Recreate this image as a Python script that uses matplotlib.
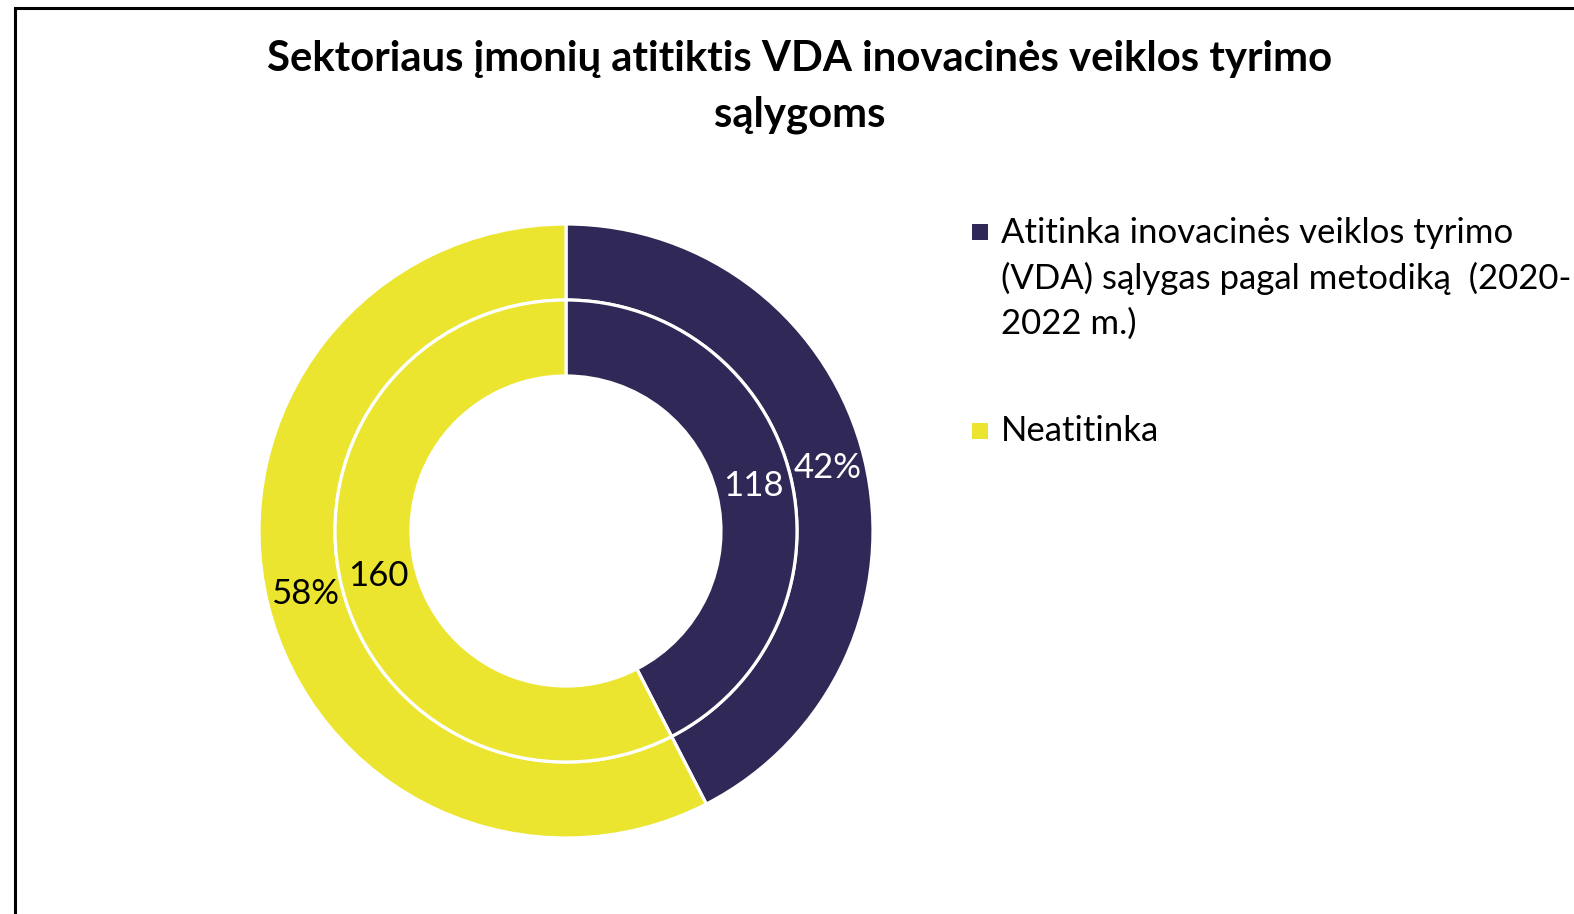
import matplotlib
matplotlib.use("Agg")
from matplotlib import pyplot as plt
from matplotlib.patches import Rectangle

plt.rcParams['font.family'] = ['Lato', 'DejaVu Sans']

title = "Sektoriaus įmonių atitiktis VDA inovacinės veiklos tyrimo\nsąlygoms"
categories = ["Atitinka inovacinės veiklos tyrimo\n(VDA) sąlygas pagal metodiką  (2020-\n2022 m.)",
              "Neatitinka"]
counts = [118, 160]
colors = ["#302957", "#EBE530"]
label_colors = ["white", "black"]

W, H = 1574, 914
fig = plt.figure(figsize=(W / 100, H / 100), dpi=100)

# pie axes: centre (566, 531) px, outer radius ~309 px
R = 307
half = 327
ax = fig.add_axes([(566 - half) / W, (H - 531 - half) / H, 2 * half / W, 2 * half / H])

r_mid = 231 / R
ring_w = 76 / R
total = sum(counts)
edge = dict(edgecolor='white', linewidth=2.3, width=ring_w)

outer, _, outer_txt = ax.pie(counts, radius=1.0, colors=colors, startangle=90, counterclock=False,
                             wedgeprops=edge, autopct='%.0f%%', pctdistance=(1 - ring_w / 2))
inner, _, inner_txt = ax.pie(counts, radius=r_mid, colors=colors, startangle=90, counterclock=False,
                             wedgeprops=edge, autopct=lambda p: f'{p * total / 100:.0f}',
                             pctdistance=(r_mid - ring_w / 2) / r_mid)
for txts in (outer_txt, inner_txt):
    for t, c in zip(txts, label_colors):
        t.set_color(c)
        t.set_fontsize(25)

ax.set_xlim(-half / R, half / R)
ax.set_ylim(-half / R, half / R)
ax.set_aspect('equal')
ax.axis('off')

fig.text(800 / W, 1 - 87 / H, title, ha='center', va='center', fontsize=30.2,
         fontweight='bold', linespacing=1.57)

# legend: square markers with text, first line aligned with marker
legend_y = [242, 441]  # baselines of first line (px from top)
line_h = 46
for lab, col, yb in zip(categories, colors, legend_y):
    fig.add_artist(Rectangle((972 / W, 1 - (yb - 2) / H), 16 / W, 16 / H,
                             transform=fig.transFigure, facecolor=col, edgecolor='none'))
    n = lab.count("\n")
    fig.text(1001 / W, 1 - (yb + n * line_h) / H, lab, ha='left', va='baseline', fontsize=25,
             linespacing=1.48)

# frame
fig.add_artist(Rectangle((15 / W, -0.1), 1.1, 1.1 - 8 / H, transform=fig.transFigure,
                         fill=False, edgecolor='black', linewidth=2.2, clip_on=False))

fig.savefig("out.png", dpi=100)
